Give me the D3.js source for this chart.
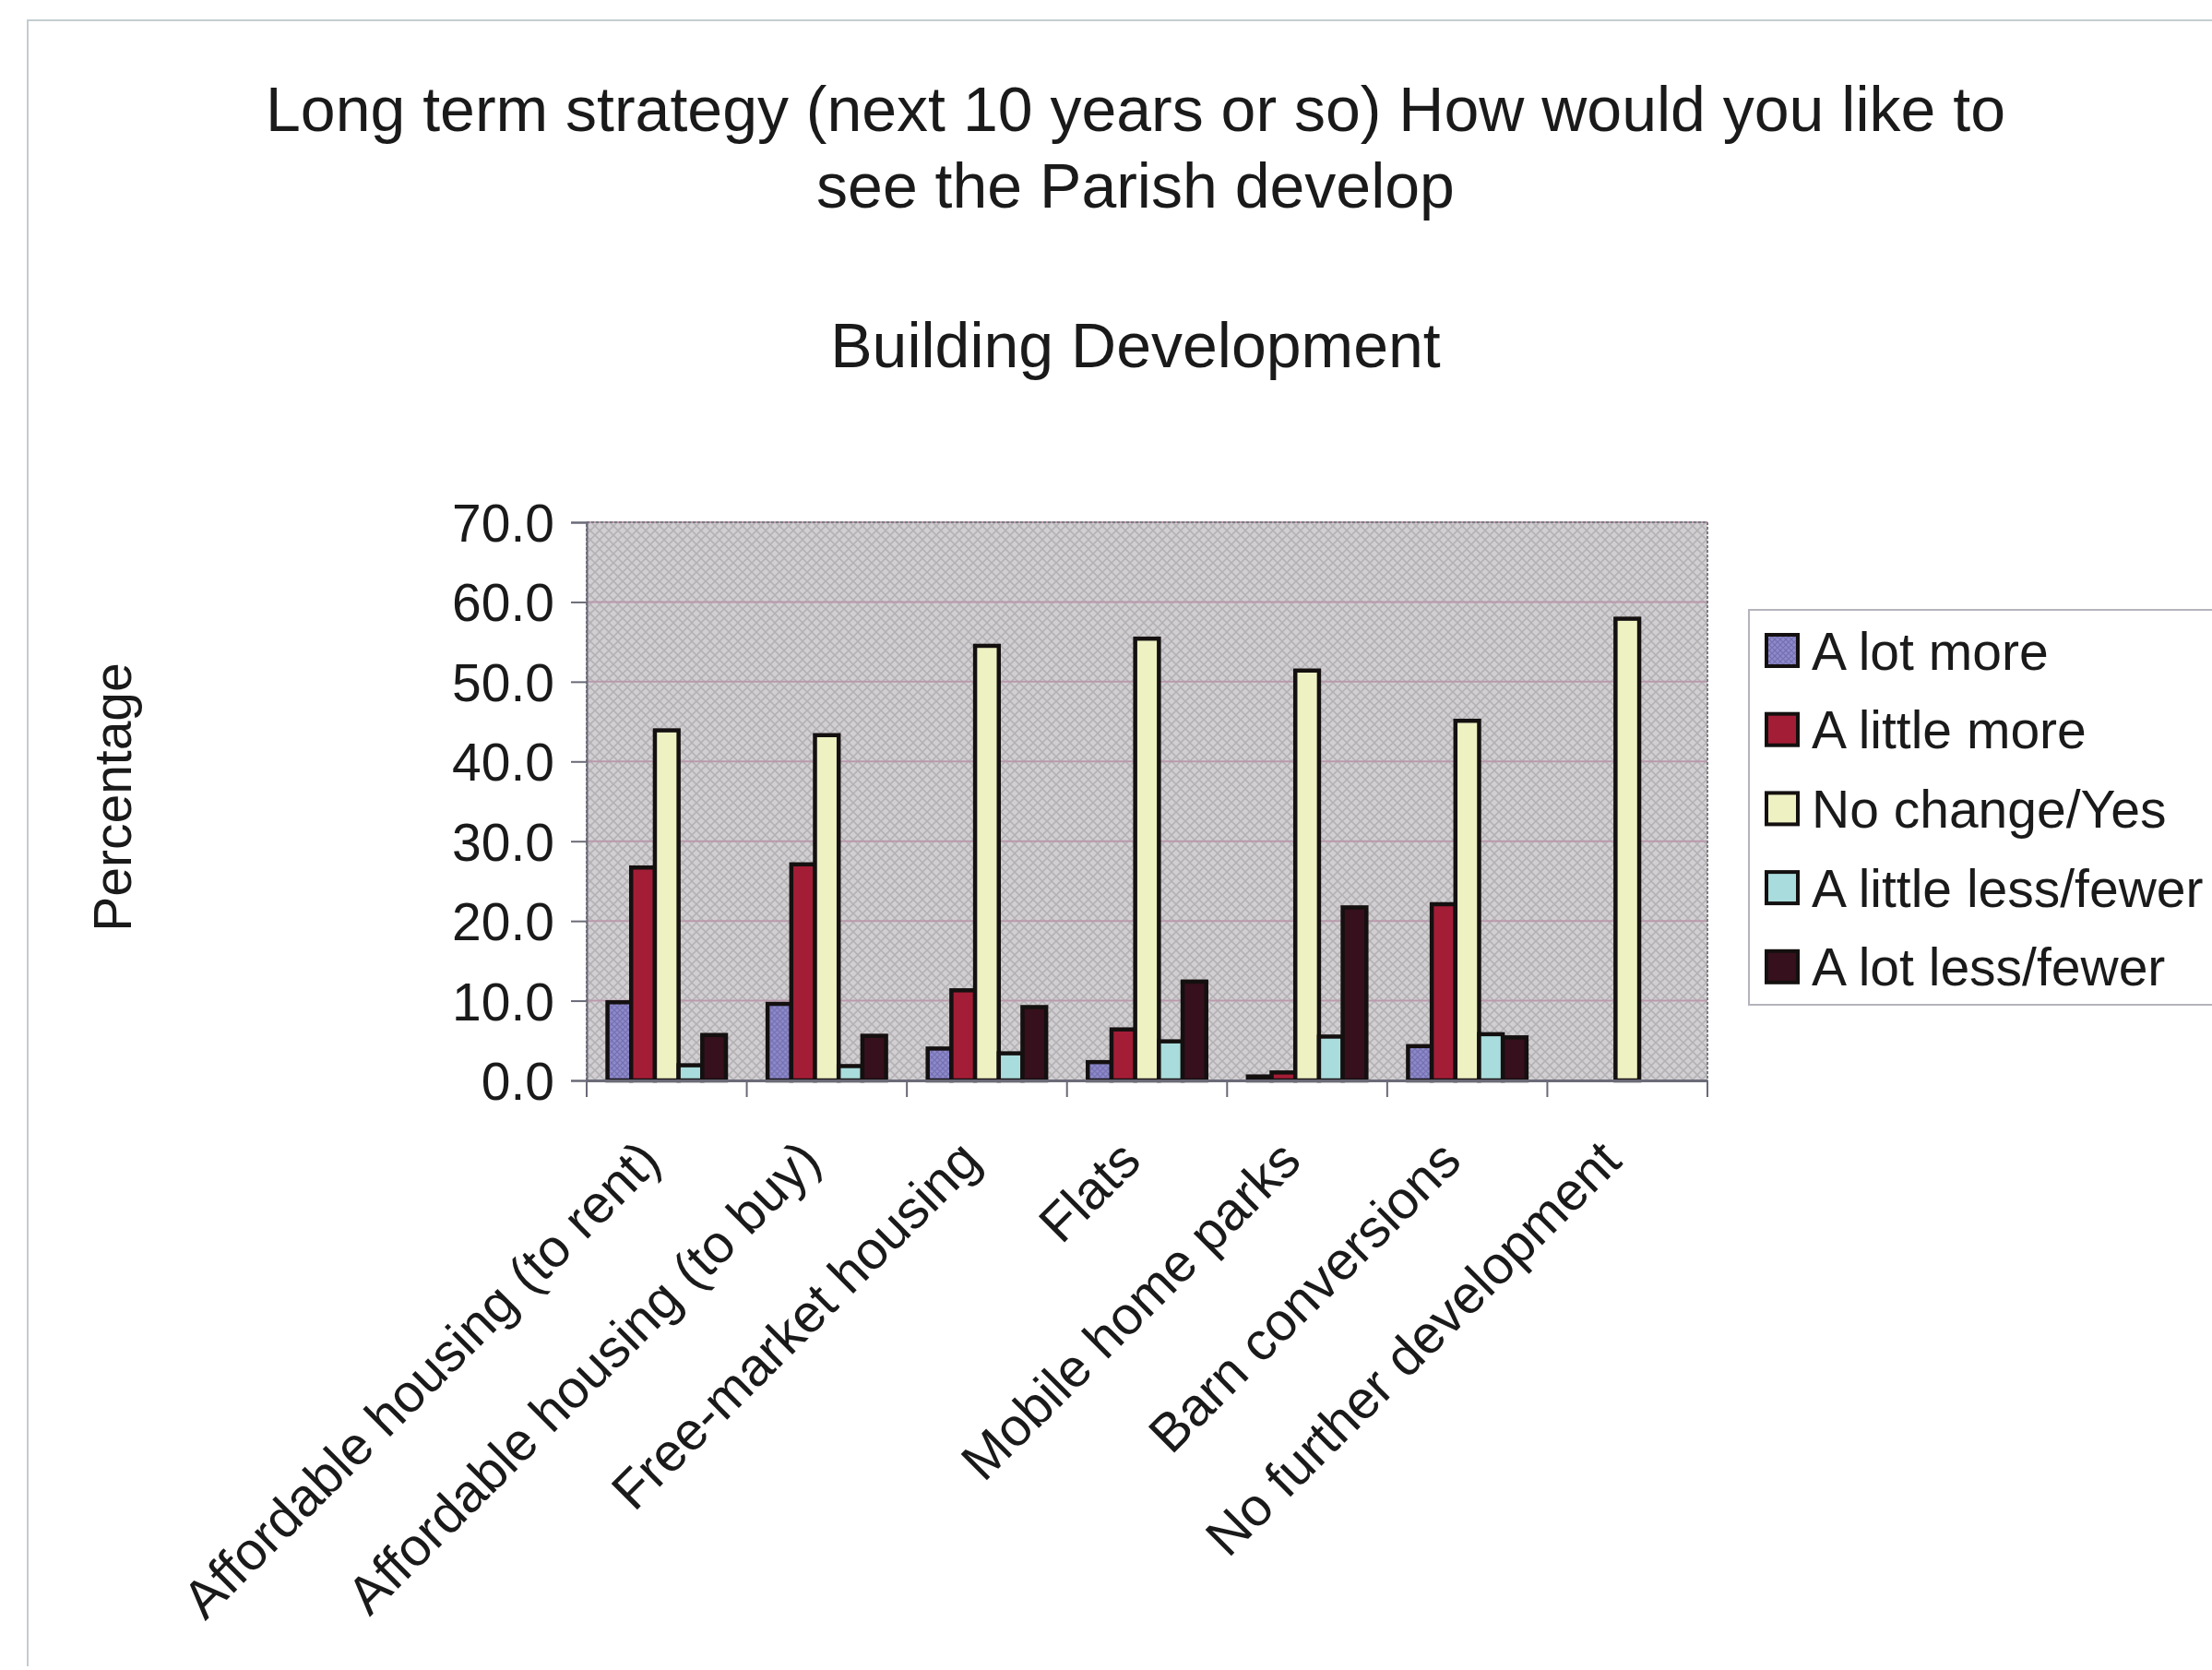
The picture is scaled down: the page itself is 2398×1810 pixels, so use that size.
<!DOCTYPE html>
<html>
<head>
<meta charset="utf-8">
<script src="https://cdn.jsdelivr.net/npm/d3@7"></script>
<style>
  html, body { margin: 0; padding: 0; background: #ffffff; }
  svg { display: block; }
  text { font-family: "Liberation Sans", Arial, sans-serif; fill: #1a1a1a; }
</style>
</head>
<body>
<svg id="chart" width="2398" height="1810"></svg>
<script>
// ---- data ----
const categories = [
  "Affordable housing (to rent)",
  "Affordable housing (to buy)",
  "Free-market housing",
  "Flats",
  "Mobile home parks",
  "Barn conversions",
  "No further development"
];
const seriesNames = ["A lot more", "A little more", "No change/Yes", "A little less/fewer", "A lot less/fewer"];
const aLotMore      = [9.8, 9.6, 4.0, 2.3, 0.5, 4.3, 0];
const aLittleMore   = [26.7, 27.1, 11.3, 6.4, 1.0, 22.1, 0];
const noChangeYes   = [43.9, 43.3, 54.5, 55.4, 51.4, 45.1, 57.9];
const aLittleLess   = [1.9, 1.8, 3.4, 4.9, 5.5, 5.8, 0];
const aLotLess      = [5.7, 5.6, 9.2, 12.4, 21.7, 5.4, 0];
const yTicks = [0, 10, 20, 30, 40, 50, 60, 70];
const titleLines = ["Long term strategy (next 10 years or so) How would you like to", "see the Parish develop"];
const subtitle = "Building Development";
const yLabel = "Percentage";

const seriesValues = [aLotMore, aLittleMore, noChangeYes, aLittleLess, aLotLess];
const colors = ["#8c88c6", "#a41d36", "#eef1c2", "#a9dcdc", "#36101c"];

// ---- layout ----
const svg = d3.select("#chart");
const plot = { left: 636, right: 1851, top: 566, bottom: 1171 };

const defs = svg.append("defs");
const bgPat = defs.append("pattern").attr("id", "bgpat")
  .attr("width", 10).attr("height", 10).attr("patternUnits", "userSpaceOnUse");
bgPat.append("rect").attr("width", 10).attr("height", 10).attr("fill", "#d2cfd2");
bgPat.append("path").attr("d", "M0,5 L5,0 L10,5 L5,10 Z").attr("fill", "none")
  .attr("stroke", "#b4b1b5").attr("stroke-width", 1.6);

const blPat = defs.append("pattern").attr("id", "blpat")
  .attr("width", 6).attr("height", 6).attr("patternUnits", "userSpaceOnUse");
blPat.append("rect").attr("width", 6).attr("height", 6).attr("fill", "#8e8acb");
blPat.append("path").attr("d", "M0,3 L3,0 L6,3 L3,6 Z").attr("fill", "none")
  .attr("stroke", "#7470b0").attr("stroke-width", 1.2);

// chart area border
svg.append("path")
  .attr("d", `M30,1806 L30,22 L2398,22`)
  .attr("fill", "none").attr("stroke", "#c4ccd0").attr("stroke-width", 2);

// titles
svg.append("text").attr("x", 1231).attr("y", 142).attr("text-anchor", "middle")
  .attr("font-size", 68).text(titleLines[0]);
svg.append("text").attr("x", 1231).attr("y", 225).attr("text-anchor", "middle")
  .attr("font-size", 68).text(titleLines[1]);
svg.append("text").attr("x", 1231).attr("y", 398).attr("text-anchor", "middle")
  .attr("font-size", 68).text(subtitle);

// scales
const x0 = d3.scaleBand().domain(categories).range([plot.left, plot.right]).padding(0);
const gap = x0.bandwidth() * 0.13;
const x1 = d3.scaleBand().domain(d3.range(seriesNames.length))
  .range([gap, x0.bandwidth() - gap]).padding(0);
const y = d3.scaleLinear().domain([0, 70]).range([plot.bottom, plot.top]);

// plot background
svg.append("rect").attr("x", plot.left).attr("y", plot.top)
  .attr("width", plot.right - plot.left).attr("height", plot.bottom - plot.top)
  .attr("fill", "url(#bgpat)");

// gridlines
svg.append("g").selectAll("line").data(yTicks.filter(d => d > 0)).join("line")
  .attr("x1", plot.left).attr("x2", plot.right)
  .attr("y1", d => y(d)).attr("y2", d => y(d))
  .attr("stroke", "#b99aac").attr("stroke-width", 2);

// plot border
svg.append("rect").attr("x", plot.left).attr("y", plot.top)
  .attr("width", plot.right - plot.left).attr("height", plot.bottom - plot.top)
  .attr("fill", "none").attr("stroke", "#7a7a82").attr("stroke-width", 2)
  .attr("stroke-dasharray", "3,2");

// bars
const groups = svg.append("g").selectAll("g").data(categories).join("g")
  .attr("transform", d => `translate(${x0(d)},0)`);
groups.selectAll("rect")
  .data((d, i) => seriesValues.map((s, k) => ({ k, v: s[i] })).filter(o => o.v > 0))
  .join("rect")
  .attr("x", o => x1(o.k))
  .attr("width", x1.bandwidth())
  .attr("y", o => y(o.v))
  .attr("height", o => y(0) - y(o.v))
  .attr("fill", o => o.k === 0 ? "url(#blpat)" : colors[o.k])
  .attr("stroke", "#141010").attr("stroke-width", 4.5);

// y axis
const yAxis = d3.axisLeft(y).tickValues(yTicks).tickFormat(d3.format(".1f")).tickSize(17).tickPadding(18);
const ya = svg.append("g").attr("transform", `translate(${plot.left},0)`).call(yAxis);
ya.select(".domain").attr("stroke", "#6a6a78").attr("stroke-width", 2);
ya.selectAll(".tick line").attr("stroke", "#6a6a78").attr("stroke-width", 2);
ya.selectAll(".tick text").attr("font-size", 57).attr("fill", "#1a1a1a")
  .style("font-family", "'Liberation Sans', Arial, sans-serif").attr("dy", "0.36em");

// x axis
const xAxis = d3.axisBottom(x0).tickSize(0).tickFormat("");
const xa = svg.append("g").attr("transform", `translate(0,${plot.bottom})`).call(xAxis);
xa.select(".domain").attr("stroke", "#6a6a78").attr("stroke-width", 3);
const bounds = categories.map(c => x0(c)).concat([plot.right]);
svg.append("g").selectAll("line").data(bounds).join("line")
  .attr("x1", d => d).attr("x2", d => d)
  .attr("y1", plot.bottom).attr("y2", plot.bottom + 18)
  .attr("stroke", "#6a6a78").attr("stroke-width", 2);

// category labels
svg.append("g").selectAll("text").data(categories).join("text")
  .attr("text-anchor", "end")
  .attr("font-size", 58)
  .attr("transform", d => `translate(${x0(d) + x0.bandwidth() / 2 - 4},${plot.bottom + 90}) rotate(-45)`)
  .text(d => d);

// y label
svg.append("text").attr("transform", "translate(142,864) rotate(-90)")
  .attr("text-anchor", "middle").attr("font-size", 57).text(yLabel);

// legend
const lg = svg.append("g");
lg.append("rect").attr("x", 1896).attr("y", 661).attr("width", 560).attr("height", 428)
  .attr("fill", "#ffffff").attr("stroke", "#b4b4bc").attr("stroke-width", 2);
const items = lg.selectAll("g").data(seriesNames).join("g")
  .attr("transform", (d, i) => `translate(1915,${705 + i * 85.7})`);
items.append("rect").attr("x", 0).attr("y", -17).attr("width", 34).attr("height", 34)
  .attr("fill", (d, i) => i === 0 ? "url(#blpat)" : colors[i])
  .attr("stroke", "#141010").attr("stroke-width", 4);
items.append("text").attr("x", 49).attr("y", 0).attr("dy", "0.36em")
  .attr("font-size", 57).text(d => d);
</script>
</body>
</html>
